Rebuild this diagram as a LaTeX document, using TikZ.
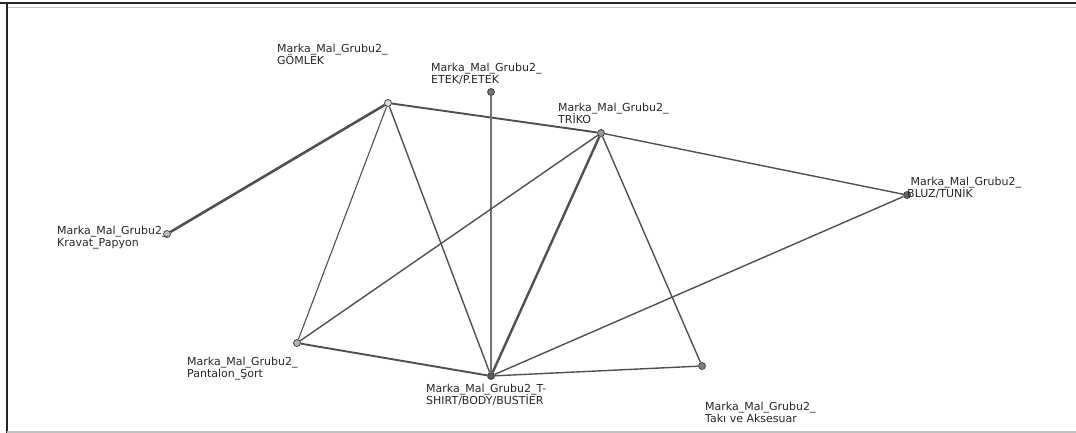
\documentclass[tikz,border=0pt]{standalone}
\usepackage{fontspec}
\setmainfont{DejaVu Sans}
\usetikzlibrary{backgrounds}
\definecolor{edgegray}{RGB}{80,80,80}
\definecolor{rimgray}{RGB}{70,70,70}
\newcommand{\labfont}{\fontsize{11}{11.5}\selectfont
  \setlength{\lineskiplimit}{-20pt}\setlength{\lineskip}{0pt}}
\tikzset{
  netnode/.style={circle, draw=rimgray, line width=0.8pt, inner sep=0pt,
                  minimum size=7pt},
  lab/.style={anchor=north west, align=left, inner sep=0pt,
              font=\labfont, text=black!85},
  link/.style={draw=edgegray, line width=1.4pt},
  thinlink/.style={draw=edgegray, line width=1.1pt},
  heavylink/.style={draw=edgegray, line width=2.6pt},
  frame/.style={line width=1.4pt, black!85},
}

\begin{document}
\begin{tikzpicture}[x=1pt,y=-1pt]
  \path[use as bounding box] (0,0) rectangle (1076,433);

  % window frame
  \draw[frame] (0,3) -- (1076,3);
  \draw[black!25, line width=1.2pt] (8,7.5) -- (1076,7.5);
  \draw[frame] (7,3) -- (7,433);
  \draw[black!25, line width=1.2pt] (7,432) -- (1076,432);

  % product groups
  \node[netnode, fill=black!12] (GOM) at (388,103) {};
  \node[netnode, fill=black!55] (ETK) at (491,92) {};
  \node[netnode, fill=black!40] (TRK) at (601,133) {};
  \node[netnode, fill=black!60] (BLZ) at (907,195) {};
  \node[netnode, fill=black!25] (KRV) at (167,234) {};
  \node[netnode, fill=black!30] (PNT) at (297,343) {};
  \node[netnode, fill=black!65] (TSH) at (491,376) {};
  \node[netnode, fill=black!50] (TAK) at (702,366) {};

  \node[lab] (GOMl) at (277,44) {Marka\_Mal\_Grubu2\_\\GÖMLEK};
  \node[lab] (ETKl) at (431,63) {Marka\_Mal\_Grubu2\_\\ETEK/P.ETEK};
  \node[lab] (TRKl) at (558,103) {Marka\_Mal\_Grubu2\_\\TRİKO};
  \node[lab] (BLZl) at (907,177) {\hspace*{3.5pt}Marka\_Mal\_Grubu2\_\\BLUZ/TUNİK};
  \node[lab] (KRVl) at (57,226) {Marka\_Mal\_Grubu2\_\\Kravat\_Papyon};
  \node[lab] (PNTl) at (187,357) {Marka\_Mal\_Grubu2\_\\Pantalon\_Şort};
  \node[lab] (TSHl) at (426,384) {Marka\_Mal\_Grubu2\_T-\\SHIRT/BODY/BUSTİER};
  \node[lab] (TAKl) at (705,402) {Marka\_Mal\_Grubu2\_\\Takı ve Aksesuar};

  % associations
  \begin{pgfonlayer}{background}
    \draw[heavylink] (KRV) -- (GOM);
    \draw[link, line width=1.9pt] (GOM) -- (TRK);
    \draw[link] (TRK) -- (BLZ);
    \draw[thinlink] (GOM) -- (PNT);
    \draw[link] (GOM) -- (TSH);
    \draw[thinlink, draw=black!55] (ETK) -- (TSH);
    \draw[link] (TRK) -- (PNT);
    \draw[heavylink, line width=2.4pt] (TRK) -- (TSH);
    \draw[link] (TRK) -- (TAK);
    \draw[link] (BLZ) -- (TSH);
    \draw[link, line width=1.9pt] (PNT) -- (TSH);
    \draw[link] (TSH) -- (TAK);
  \end{pgfonlayer}
\end{tikzpicture}
\end{document}
